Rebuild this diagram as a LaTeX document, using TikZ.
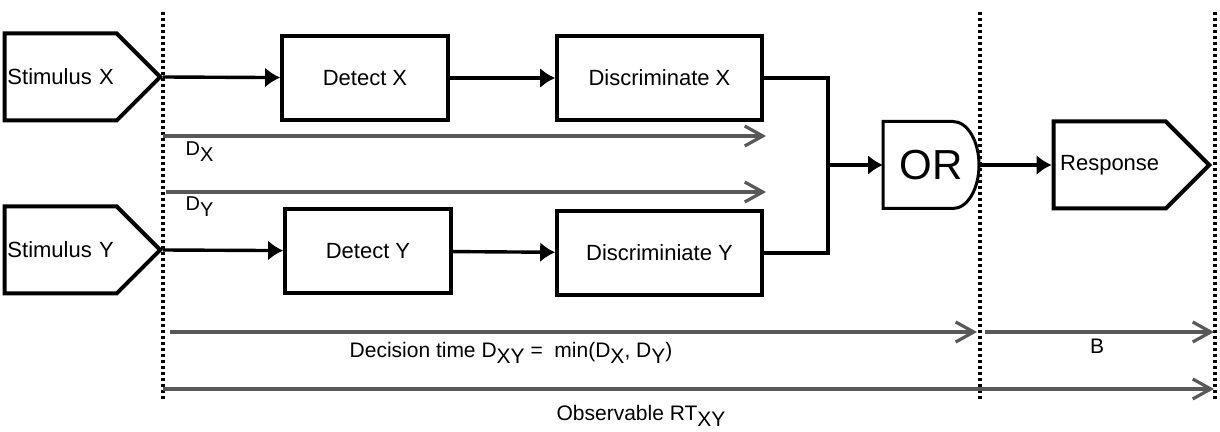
\documentclass[tikz,border=0pt]{standalone}
\usepackage{fontspec}
\setmainfont{Liberation Sans}
\usepackage{tikz}
\usetikzlibrary{shapes.symbols, arrows.meta, positioning}
\definecolor{spangray}{RGB}{88,88,88}
\tikzstyle{block} = [draw, fill=white, rectangle, line width=1.8pt, minimum width=83pt, minimum height=42pt, font=\fontsize{11}{13}\selectfont]
\tikzstyle{stim} = [draw, fill=white, signal, signal to=east, signal pointer angle=90, line width=2pt, text width=56pt, align=center, inner xsep=0pt, minimum height=43.5pt, font=\fontsize{11}{13}\selectfont]
\tikzstyle{span} = [draw=spangray, line width=1.6pt, -{Straight Barb[length=9pt,width=10pt]}]
\tikzstyle{cut} = [line width=1.6pt, dash pattern=on 1.6pt off 1.4pt]
\tikzstyle{lab} = [inner sep=0pt, font=\fontsize{10}{12}\selectfont]
\newcommand{\low}[1]{\raisebox{-0.55ex}{#1}}

\begin{document}
\begin{tikzpicture}[x=0.5pt, y=-0.5pt, auto, >={Latex[length=7.5pt,width=10pt]}, line width=1.7pt]
      \useasboundingbox (0,0) rectangle (1220,432);
      \coordinate (t0) at (163,12);
      \coordinate (t0e) at (163,400);
      \coordinate (t1) at (980,12);
      \coordinate (t1e) at (980,400);
      \coordinate (t2) at (1215,12);
      \coordinate (t2e) at (1215,400);
      \draw[cut] (t0) -- (t0e);
      \draw[cut] (t1) -- (t1e);
      \draw[cut] (t2) -- (t2e);

      \node[stim, anchor=east] (SX) at (163,77) {Stimulus X};
      \node[stim, anchor=east] (SY) at (163,250) {Stimulus Y};
      \node[block] (DX) at (365,78) {Detect X};
      \node[block] (DY) at (368,251) {Detect Y};
      \node[block, minimum width=102.5pt] (CX) at (659.5,78) {Discriminate X};
      \node[block, minimum width=102.5pt] (CY) at (659.5,253) {Discriminiate Y};
      \node[minimum width=48pt, minimum height=43.5pt, inner sep=0pt, outer sep=0pt, font=\fontsize{21}{24}\selectfont] (OR) at (931,165) {OR};
      \draw[line width=1.5pt] (OR.north west) -- ++(70,0) arc[start angle=90, end angle=-90, x radius=13pt, y radius=21.75pt] -- (OR.south west) -- cycle;
      \node[stim, anchor=east] (R) at (1212,165) {Response};
      \coordinate (join) at (828,165);

      \draw[->] (SX.east) -- (DX);
      \draw[->] (DX) -- (CX);
      \draw[->] (SY.east) -- (DY);
      \draw[->] (DY) -- (CY);
      \draw (CX.east) -| (join);
      \draw (CY.east) -| (join);
      \draw[->] (join) -- (OR.west);
      \draw[->] (OR.east) -- (R.west);

      \coordinate (dx0) at (163,136);
      \coordinate (dx1) at (766,136);
      \coordinate (dy0) at (166,192);
      \coordinate (dy1) at (766,192);
      \coordinate (dt0) at (170,332);
      \coordinate (dt1) at (977,332);
      \coordinate (b0) at (985,332);
      \coordinate (b1) at (1214,332);
      \coordinate (rt0) at (163,389);
      \coordinate (rt1) at (1214,389);
      \draw[span] (dx0) -- (dx1);
      \draw[span] (dy0) -- (dy1);
      \draw[span] (dt0) -- (dt1);
      \draw[span] (b0) -- (b1);
      \draw[span] (rt0) -- (rt1);
      \node[lab, anchor=west] (lDX) at (184,152) {D\low{X}};
      \node[lab, anchor=west] (lDY) at (184,207) {D\low{Y}};
      \node[lab, font=\fontsize{10.5}{12}\selectfont] (lDT) at (511,353) {Decision time D\low{XY} =\ \ min(D\low{X}, D\low{Y})};
      \node[lab, font=\fontsize{10.5}{12}\selectfont] (lB) at (1097,346) {B};
      \node[lab, font=\fontsize{10.5}{12}\selectfont] (lRT) at (641,416) {Observable RT\low{XY}};
    \end{tikzpicture}
\end{document}
